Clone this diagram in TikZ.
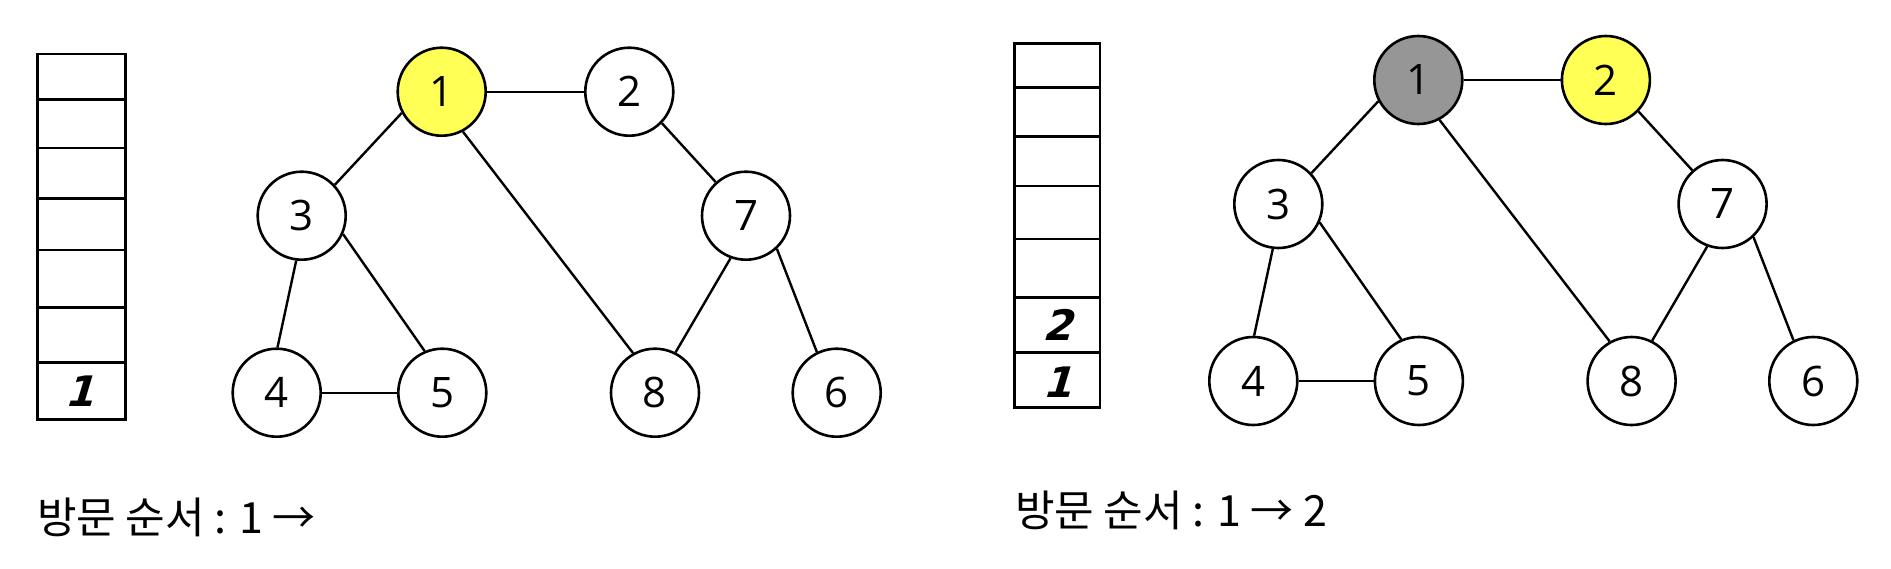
\documentclass[tikz,border=0pt]{standalone}
\usepackage{fontspec}
\setmainfont{Open Sans}
\newfontfamily\krfont{Noto Sans CJK KR}
\newfontfamily\handfont[FakeSlant=0.3]{DejaVu Sans}
\definecolor{visityellow}{RGB}{255,255,85}
\definecolor{donegray}{RGB}{150,150,150}
\begin{document}
\begin{tikzpicture}[x=1pt,y=-1pt,
  vtx/.style={circle, draw, minimum size=88pt, inner sep=0pt, line width=2.6pt, fill=white,
    font=\fontsize{42}{42}\selectfont},
  cur/.style={vtx, fill=visityellow},
  done/.style={vtx, fill=donegray},
  edge/.style={line width=2.4pt},
  stackline/.style={line width=2.5pt},
  stacknum/.style={inner sep=0pt, font=\handfont\bfseries\fontsize{42}{42}\selectfont},
  order/.style={anchor=west, inner sep=0pt, font=\krfont\fontsize{43}{43}\selectfont}]
\useasboundingbox (0,0) rectangle (1891,568);

% ---------- left stack ----------
\draw[stackline] (37.7,54) rectangle (125.3,419.3);
\foreach \yy in {99.3,148,198.7,250,307.7,362.7}
  \draw[stackline] (37.7,\yy) -- (125.3,\yy);
\node[stacknum] (sa1) at (79,391) {1};

% ---------- left graph ----------
\node[cur] (a1) at (441.7,91.7) {1};
\node[vtx] (a2) at (629.3,91.7) {2};
\node[vtx] (a3) at (301.7,215.7) {3};
\node[vtx] (a4) at (276.7,392.7) {4};
\node[vtx] (a5) at (442.3,392.7) {5};
\node[vtx] (a8) at (655,392.7) {8};
\node[vtx] (a7) at (746,215.7) {7};
\node[vtx] (a6) at (836.7,392.7) {6};
\draw[edge] (a1) -- (a2);
\draw[edge] (a1.208.4) -- (a3.43.6);
\draw[edge] (a1.298.1) -- (a8.119.1);
\draw[edge] (a2.316.2) -- (a7.132.4);
\draw[edge] (a3.263.3) -- (a4.89.3);
\draw[edge] (a3.336) -- (a5.113.2);
\draw[edge] (a4) -- (a5);
\draw[edge] (a7.250.5) -- (a8.63.4);
\draw[edge] (a7.313.3) -- (a6.116.5);

\node[order] (ordera) at (37,517) {방문 순서 : 1 →};

% ---------- right stack ----------
\draw[stackline] (1014.3,43.3) rectangle (1100,407.7);
\foreach \yy in {87.3,136.7,186,239,297.3,352.3}
  \draw[stackline] (1014.3,\yy) -- (1100,\yy);
\node[stacknum] (sb1) at (1057,382) {1};
\node[stacknum] (sb2) at (1057,325) {2};

% ---------- right graph ----------
\begin{scope}[shift={(976.6,-11.7)}]
\node[done] (b1) at (441.7,91.7) {1};
\node[cur] (b2) at (629.3,91.7) {2};
\node[vtx] (b3) at (301.7,215.7) {3};
\node[vtx] (b4) at (276.7,392.7) {4};
\node[vtx] (b5) at (442.3,392.7) {5};
\node[vtx] (b8) at (655,392.7) {8};
\node[vtx] (b7) at (746,215.7) {7};
\node[vtx] (b6) at (836.7,392.7) {6};
\end{scope}
\draw[edge] (b1) -- (b2);
\draw[edge] (b1.208.4) -- (b3.43.6);
\draw[edge] (b1.298.1) -- (b8.119.1);
\draw[edge] (b2.316.2) -- (b7.132.4);
\draw[edge] (b3.263.3) -- (b4.89.3);
\draw[edge] (b3.336) -- (b5.113.2);
\draw[edge] (b4) -- (b5);
\draw[edge] (b7.250.5) -- (b8.63.4);
\draw[edge] (b7.313.3) -- (b6.116.5);

\node[order] (orderb) at (1015,510) {방문 순서 : 1 → 2};
\end{tikzpicture}
\end{document}
